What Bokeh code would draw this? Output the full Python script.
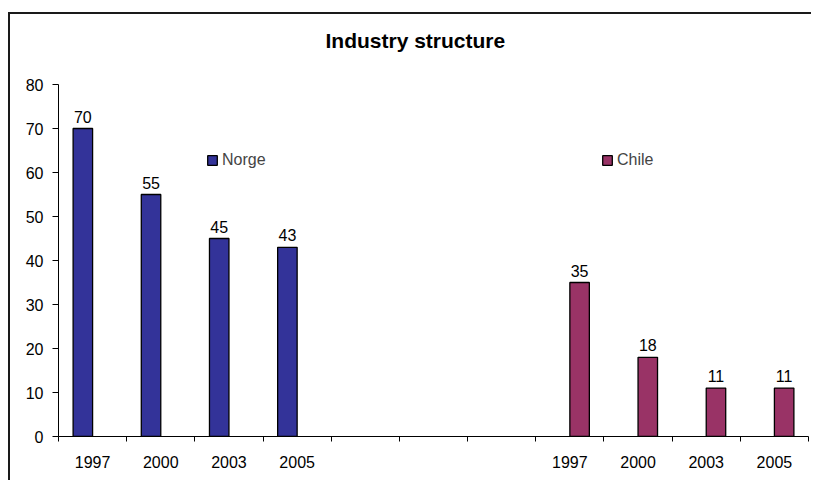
from bokeh.plotting import figure
from bokeh.models import FixedTicker, Legend, LegendItem, ColumnDataSource, Range1d, Title
from bokeh.core.properties import value
from bokeh.embed import file_html
from bokeh.resources import INLINE

# ---- data ----
categories = ["1997", "2000", "2003", "2005", "", "", "", "1997", "2000", "2003", "2005"]
norge_cat = [0, 1, 2, 3]
norge_values = [70, 55, 45, 43]
chile_cat = [7, 8, 9, 10]
chile_values = [35, 18, 11, 11]
y_ticks = [0, 10, 20, 30, 40, 50, 60, 70, 80]
title_text = "Industry structure"

FONT = "Liberation Sans"
BAR_W = 1.0 / 3.5   # gap width 150%
norge_x = [c + 0.5 - BAR_W / 2 for c in norge_cat]
chile_x = [c + 0.5 + BAR_W / 2 for c in chile_cat]

src_n = ColumnDataSource(dict(x=norge_x, top=norge_values, lab=[str(v) for v in norge_values]))
src_c = ColumnDataSource(dict(x=chile_x, top=chile_values, lab=[str(v) for v in chile_values]))

p = figure(width=803, height=468, output_backend="svg", toolbar_location=None,
           x_range=Range1d(0, len(categories)), y_range=Range1d(0, 80),
           min_border_left=48, min_border_right=5, min_border_top=70, min_border_bottom=46)
p.margin = (12, 0, 0, 8)
p.styles = {"border-left": "2px solid #1a1a1a", "border-top": "2px solid #1a1a1a"}
p.outline_line_color = None
p.xgrid.visible = False
p.ygrid.visible = False
p.background_fill_color = "white"
p.border_fill_color = "white"
p.title.text = ""
p.title.standoff = 0

# spacer between title and plot area, then the title itself
p.add_layout(Title(text=" ", text_font_size="10px", standoff=20), "above")
p.add_layout(Title(text=title_text, text_font=FONT, text_font_size="21px",
                   text_font_style="bold", text_color="black", align="left",
                   offset=267, standoff=0), "above")

rn = p.vbar(x="x", top="top", width=BAR_W, source=src_n, fill_color="#333399",
            line_color="black", line_width=1.3)
rc = p.vbar(x="x", top="top", width=BAR_W, source=src_c, fill_color="#993366",
            line_color="black", line_width=1.3)

for s in (src_n, src_c):
    p.text(x="x", y="top", text="lab", source=s, text_font=value(FONT),
           text_font_size="16px", text_align="center", text_baseline="alphabetic",
           y_offset=-12, text_color="black")

# x axis: labels at category centres, tick marks at category boundaries
xa = p.xaxis[0]
centers = [i + 0.5 for i, c in enumerate(categories) if c]
xa.ticker = FixedTicker(ticks=centers, minor_ticks=list(range(len(categories) + 1)))
xa.major_label_overrides = {i + 0.5: c for i, c in enumerate(categories) if c}
xa.major_tick_out = 0
xa.major_tick_in = 0
xa.minor_tick_out = 5
xa.minor_tick_in = 0
xa.minor_tick_line_color = "black"
xa.axis_line_color = "black"
xa.major_label_text_font = FONT
xa.major_label_text_font_size = "16px"
xa.major_label_text_color = "black"
xa.major_label_standoff = 14

ya = p.yaxis[0]
ya.ticker = FixedTicker(ticks=y_ticks)
ya.minor_tick_line_color = None
ya.major_tick_out = 6
ya.major_tick_in = 0
ya.major_tick_line_color = "black"
ya.axis_line_color = "black"
ya.major_label_text_font = FONT
ya.major_label_text_font_size = "16px"
ya.major_label_text_color = "black"
ya.major_label_standoff = 9

legend = Legend(items=[LegendItem(label="Norge", renderers=[rn]),
                       LegendItem(label="Chile", renderers=[rc])],
                orientation="horizontal", location=(148, 267),
                glyph_width=12, glyph_height=12, label_standoff=4, label_width=379,
                spacing=0, padding=0, margin=0, border_line_color=None,
                background_fill_alpha=0, label_text_font=FONT, label_text_font_size="16px",
                label_height=12)
p.add_layout(legend, "center")

open("out.html", "w").write(file_html(p, INLINE))
